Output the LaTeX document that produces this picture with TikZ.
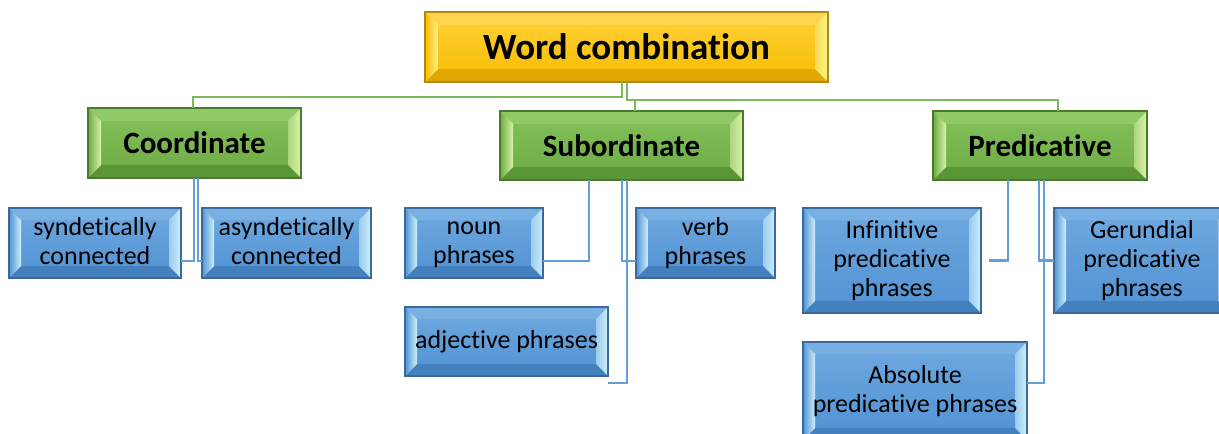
\documentclass[tikz,border=0pt]{standalone}
\usepackage{fontspec}
\setmainfont{Carlito}[Ligatures=NoCommon]
\usetikzlibrary{backgrounds}
% yellow
\definecolor{yctop}{HTML}{FFD13A}\definecolor{ycbot}{HTML}{F7BC00}
\definecolor{ytop}{HTML}{FFD54F}\definecolor{ybot}{HTML}{E0A800}
\definecolor{ybase}{HTML}{F5B900}\definecolor{ylight}{HTML}{FFF38A}
\definecolor{yborder}{HTML}{B08A10}
% green
\definecolor{gctop}{HTML}{84C25A}\definecolor{gcbot}{HTML}{6EAA45}
\definecolor{gtop}{HTML}{8FCA66}\definecolor{gbot}{HTML}{5A9636}
\definecolor{gbase}{HTML}{6CAA44}\definecolor{glight}{HTML}{D8F2A8}
\definecolor{gborder}{HTML}{4B7A2C}
% blue
\definecolor{bctop}{HTML}{6FA9E0}\definecolor{bcbot}{HTML}{5192D2}
\definecolor{btop}{HTML}{78B0E3}\definecolor{bbot}{HTML}{447FBE}
\definecolor{bbase}{HTML}{5293D3}\definecolor{blight}{HTML}{CDF0FB}
\definecolor{bborder}{HTML}{3A6A9C}
\definecolor{gline}{HTML}{7DB85B}
\definecolor{bline}{HTML}{629FD8}
\newcommand\bevelbox[3]{%
  \shade[top color=#2ctop, bottom color=#2cbot] (#1.north west) rectangle (#1.south east);
  \fill[#2top] (#1.north west) -- (#1.north east) -- ([xshift=-#3pt,yshift=-#3pt]#1.north east) -- ([xshift=#3pt,yshift=-#3pt]#1.north west) -- cycle;
  \fill[#2bot] (#1.south west) -- (#1.south east) -- ([xshift=-#3pt,yshift=#3pt]#1.south east) -- ([xshift=#3pt,yshift=#3pt]#1.south west) -- cycle;
  \shade[left color=#2base, right color=#2light] (#1.north west) -- ([xshift=#3pt,yshift=-#3pt]#1.north west) -- ([xshift=#3pt,yshift=#3pt]#1.south west) -- (#1.south west) -- cycle;
  \shade[left color=#2light!60!#2base, right color=#2light] (#1.north east) -- ([xshift=-#3pt,yshift=-#3pt]#1.north east) -- ([xshift=-#3pt,yshift=#3pt]#1.south east) -- (#1.south east) -- cycle;
  \draw[#2border, line width=1.2pt] (#1.north west) rectangle (#1.south east);
}
\newcommand\ls{\rule[-4pt]{0pt}{20pt}}
\tikzset{
  boxbase/.style={inner sep=0pt, outer sep=0pt, align=center, text=black},
  topbox/.style={boxbase, font=\fontsize{37}{40}\selectfont\bfseries},
  greenbox/.style={boxbase, font=\fontsize{31}{34}\selectfont\bfseries},
  bluebox/.style={boxbase, font=\fontsize{26}{29}\selectfont},
  greenline/.style={draw=gline, line width=2.2pt},
  blueline/.style={draw=bline, line width=2.6pt},
}
\begin{document}
\begin{tikzpicture}[x=1pt,y=-1pt]
\useasboundingbox (0,0) rectangle (1219,434);
% nodes
\node[topbox, minimum width=403pt, minimum height=70pt] (top) at (626.5,47) {Word combination};
\node[greenbox, minimum width=213pt, minimum height=70pt] (coord) at (194.5,143) {Coordinate};
\node[greenbox, minimum width=243pt, minimum height=69pt] (sub) at (621.5,145.5) {Subordinate};
\node[greenbox, minimum width=214pt, minimum height=69pt] (pred) at (1040,145.5) {Predicative};
\node[bluebox, minimum width=172pt, minimum height=70pt] (syn) at (95,243) {\ls syndetically\\\ls connected};
\node[bluebox, minimum width=169pt, minimum height=70pt] (asyn) at (286.5,243) {\ls asyndetically\\\ls connected};
\node[bluebox, minimum width=138pt, minimum height=70pt] (noun) at (474,243) {\ls noun\\\ls phrases};
\node[bluebox, minimum width=139pt, minimum height=70pt] (verb) at (705.5,243) {\ls verb\\\ls phrases};
\node[bluebox, minimum width=203pt, minimum height=69pt] (adj) at (506.5,341.5) {adjective phrases};
\node[bluebox, minimum width=178pt, minimum height=105pt] (inf) at (892,260.5) {\ls Infinitive\\\ls predicative\\\ls phrases};
\node[bluebox, minimum width=176pt, minimum height=105pt] (ger) at (1142,260.5) {\ls Gerundial\\\ls predicative\\\ls phrases};
\node[bluebox, minimum width=224pt, minimum height=98pt] (abs) at (915,391) {\ls Absolute\\\ls predicative phrases};
% box bodies
\begin{scope}[on background layer]
\bevelbox{top}{y}{13}
\bevelbox{coord}{g}{13}
\bevelbox{sub}{g}{13}
\bevelbox{pred}{g}{13}
\bevelbox{syn}{b}{12}
\bevelbox{asyn}{b}{12}
\bevelbox{noun}{b}{12}
\bevelbox{verb}{b}{12}
\bevelbox{adj}{b}{12}
\bevelbox{inf}{b}{12}
\bevelbox{ger}{b}{12}
\bevelbox{abs}{b}{12}
\end{scope}
% green connectors
\draw[greenline] ([xshift=-4.5pt]top.south) -- ++(0,15) -| ([xshift=-1.5pt]coord.north);
\draw[greenline] ([xshift=0.5pt]top.south) -- ++(0,18) -| ([xshift=13.5pt]sub.north);
\draw[greenline] ([xshift=0.5pt]top.south) -- ++(0,18) -| ([xshift=18pt]pred.north);
% blue connectors
\coordinate (infend) at ([xshift=8pt]inf.east);
\draw[blueline] ([xshift=-0.5pt]coord.south) |- ([yshift=-18pt]syn.east);
\draw[blueline] ([xshift=3.5pt]coord.south) |- ([yshift=-18pt]asyn.west);
\draw[blueline] ([xshift=-32.5pt]sub.south) |- ([yshift=-18pt]noun.east);
\draw[blueline] ([xshift=0.5pt]sub.south) |- ([yshift=-18pt]verb.west);
\draw[blueline] ([xshift=5.5pt]sub.south) |- ([yshift=-41.5pt]adj.east);
\draw[blueline] ([xshift=-32pt]pred.south) |- (infend);
\draw[blueline] ([xshift=-1pt]pred.south) |- (ger.west);
\draw[blueline] ([xshift=4pt]pred.south) |- ([yshift=8pt]abs.east);
\end{tikzpicture}
\end{document}
